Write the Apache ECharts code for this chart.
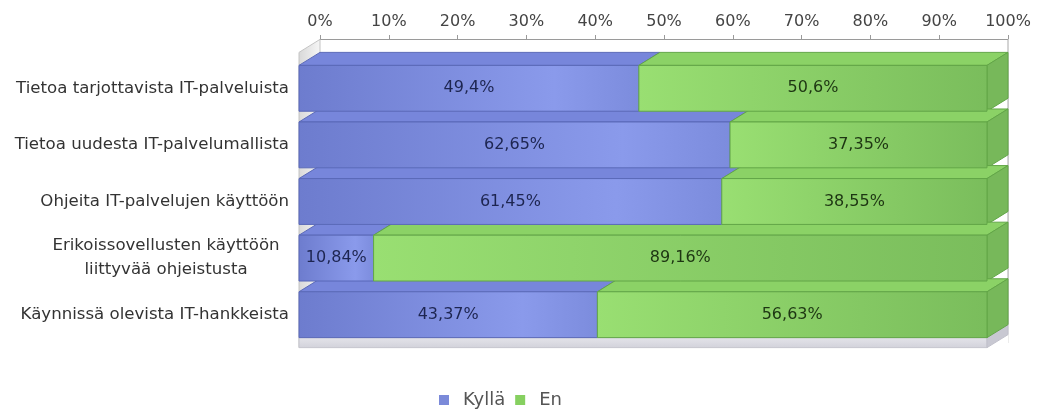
<!DOCTYPE html>
<html>
<head>
<meta charset="utf-8">
<script src="https://cdn.jsdelivr.net/npm/echarts@6/dist/echarts.min.js"></script>
<style>
  html, body { margin: 0; padding: 0; background: #ffffff; }
  #chart { width: 1042px; height: 409px; }
</style>
</head>
<body>
<div id="chart"></div>
<script>
// Survey answers per topic, in percent
const categories = [
  'Tietoa tarjottavista IT-palveluista',
  'Tietoa uudesta IT-palvelumallista',
  'Ohjeita IT-palvelujen käyttöön',
  'Erikoissovellusten käyttöön\nliittyvää ohjeistusta',
  'Käynnissä olevista IT-hankkeista'
];
const seriesNames = ['Kyllä', 'En'];
const kylla = [49.4, 62.65, 61.45, 10.84, 43.37];
const en = [50.6, 37.35, 38.55, 89.16, 56.63];

// Oblique depth of the pseudo-3D bars (pixels)
const DX = 21;
const DY = 13;
const FLOOR = 10;

const FONT = 'DejaVu Sans';

const palettes = {
  blue: {
    legend: '#7b8ad9',
    front: [[0, '#6d7cce'], [0.75, '#8a9aeb'], [1, '#7c8cdd']],
    top: '#7786db',
    side: '#6b7bc8',
    edge: '#5a69b8',
    text: '#1d2550'
  },
  green: {
    legend: '#86d060',
    front: [[0, '#99df72'], [1, '#7abd5c']],
    top: '#8bd266',
    side: '#77b85a',
    edge: '#62a647',
    text: '#1d3512'
  }
};

function fmt(v) {
  return String(v).replace('.', ',') + '%';
}

// stacked segments: [category index, start, end, value]
const kyllaData = kylla.map((v, i) => [i, 0, v, v]);
const enData = en.map((v, i) => [i, kylla[i], kylla[i] + v, v]);

function segmentRenderer(pal, drawSide) {
  return function (params, api) {
    const cat = api.value(0);
    const p0 = api.coord([api.value(1), cat]);
    const p1 = api.coord([api.value(2), cat]);
    const band = api.size([0, 1])[1];
    const h = band * 0.81;
    const xa = p0[0] - DX, xb = p1[0] - DX;
    const yt = p0[1] - h / 2, yb = p0[1] + h / 2;
    const children = [];
    children.push({
      type: 'polygon', z2: 1,
      shape: { points: [[xa, yt], [xb, yt], [xb + DX, yt - DY], [xa + DX, yt - DY]] },
      style: { fill: pal.top, stroke: pal.edge, lineWidth: 1 }
    });
    if (drawSide) {
      children.push({
        type: 'polygon', z2: 1,
        shape: { points: [[xb, yt], [xb + DX, yt - DY], [xb + DX, yb - DY], [xb, yb]] },
        style: { fill: pal.side, stroke: pal.edge, lineWidth: 1 }
      });
    }
    children.push({
      type: 'rect', z2: 5,
      shape: { x: xa, y: yt, width: xb - xa, height: h },
      style: {
        fill: new echarts.graphic.LinearGradient(0, 0, 1, 0,
          pal.front.map(s => ({ offset: s[0], color: s[1] }))),
        stroke: pal.edge, lineWidth: 1
      }
    });
    children.push({
      type: 'text', z2: 10,
      style: {
        x: (xa + xb) / 2, y: p0[1],
        text: fmt(api.value(3)),
        align: 'center', verticalAlign: 'middle',
        fontFamily: FONT, fontSize: 16, fill: pal.text
      }
    });
    return { type: 'group', children: children };
  };
}

// walls and floor of the plot box
function frameRenderer(params, api) {
  const n = categories.length;
  const a = api.coord([0, 0]);
  const b = api.coord([100, n - 1]);
  const band = api.size([0, 1])[1];
  const h = band * 0.81;
  const x0 = a[0], x1 = b[0];
  const yTop = a[1] - h / 2;
  const yBot = b[1] + h / 2;
  const wallTop = yTop - DY;
  return {
    type: 'group',
    children: [
      {
        type: 'polygon',
        shape: { points: [[x0 - DX, wallTop], [x0, wallTop - DY], [x0, yBot + FLOOR - DY], [x0 - DX, yBot + FLOOR]] },
        style: {
          fill: new echarts.graphic.LinearGradient(0, 0, 1, 0, [
            { offset: 0, color: '#d8d8d8' }, { offset: 1, color: '#f6f6f6' }
          ]),
          stroke: '#c4c4c4', lineWidth: 1
        }
      },
      {
        type: 'line',
        shape: { x1: x1, y1: wallTop - DY, x2: x1, y2: yBot - DY },
        style: { stroke: '#a8a8a8', lineWidth: 1 }
      },
      {
        type: 'polygon',
        shape: { points: [[x0 - DX, yBot], [x1 - DX, yBot], [x1, yBot - DY], [x0, yBot - DY]] },
        style: { fill: '#e6e6ec' }
      },
      {
        type: 'rect',
        shape: { x: x0 - DX, y: yBot, width: x1 - x0, height: FLOOR },
        style: {
          fill: new echarts.graphic.LinearGradient(0, 0, 0, 1, [
            { offset: 0, color: '#e4e4ea' }, { offset: 1, color: '#d2d2da' }
          ]),
          stroke: '#c6c6ce', lineWidth: 1
        }
      },
      {
        type: 'polygon',
        shape: { points: [[x1 - DX, yBot], [x1, yBot - DY], [x1, yBot + FLOOR - DY], [x1 - DX, yBot + FLOOR]] },
        style: { fill: '#c8c8d2', stroke: '#c0c0ca', lineWidth: 1 }
      }
    ]
  };
}

const chart = echarts.init(document.getElementById('chart'));
chart.setOption({
  animation: false,
  backgroundColor: '#ffffff',
  grid: { left: 320, right: 34, top: 60, height: 283, containLabel: false },
  legend: {
    data: seriesNames,
    left: 434, top: 386,
    icon: 'rect', itemWidth: 10, itemHeight: 10, itemGap: 10,
    textStyle: { fontFamily: FONT, fontSize: 18, color: '#555555', padding: [0, 0, 0, 9] }
  },
  xAxis: {
    type: 'value', position: 'top', offset: 21,
    min: 0, max: 100, interval: 10,
    axisLine: { show: true, lineStyle: { color: '#9a9a9a' } },
    axisTick: { show: true, length: 4, lineStyle: { color: '#9a9a9a' } },
    axisLabel: { formatter: '{value}%', fontFamily: FONT, fontSize: 16, color: '#444444', margin: 9 },
    splitLine: { show: true, lineStyle: { color: '#ececec' } }
  },
  yAxis: {
    type: 'category', inverse: true, data: categories,
    axisLine: { show: false }, axisTick: { show: false },
    axisLabel: {
      margin: 31, fontFamily: FONT, fontSize: 16.6, color: '#333333', lineHeight: 24,
      formatter: function (v) {
        if (v.indexOf('\n') < 0) return v;
        return v.split('\n').map(s => '{c|' + s + '}').join('\n');
      },
      rich: { c: { width: 246, align: 'center', fontFamily: FONT, fontSize: 16.6, color: '#333333', lineHeight: 24 } }
    }
  },
  series: [
    {
      type: 'custom', name: 'frame', z: 1, silent: true,
      coordinateSystem: 'cartesian2d',
      data: [[0, 0]],
      encode: { x: 0, y: 1 },
      renderItem: frameRenderer
    },
    {
      type: 'custom', name: seriesNames[0], z: 2,
      coordinateSystem: 'cartesian2d',
      itemStyle: { color: palettes.blue.legend },
      data: kyllaData,
      encode: { x: [1, 2], y: 0 },
      renderItem: segmentRenderer(palettes.blue, false)
    },
    {
      type: 'custom', name: seriesNames[1], z: 2,
      coordinateSystem: 'cartesian2d',
      itemStyle: { color: palettes.green.legend },
      data: enData,
      encode: { x: [1, 2], y: 0 },
      renderItem: segmentRenderer(palettes.green, true)
    }
  ]
});
</script>
</body>
</html>
